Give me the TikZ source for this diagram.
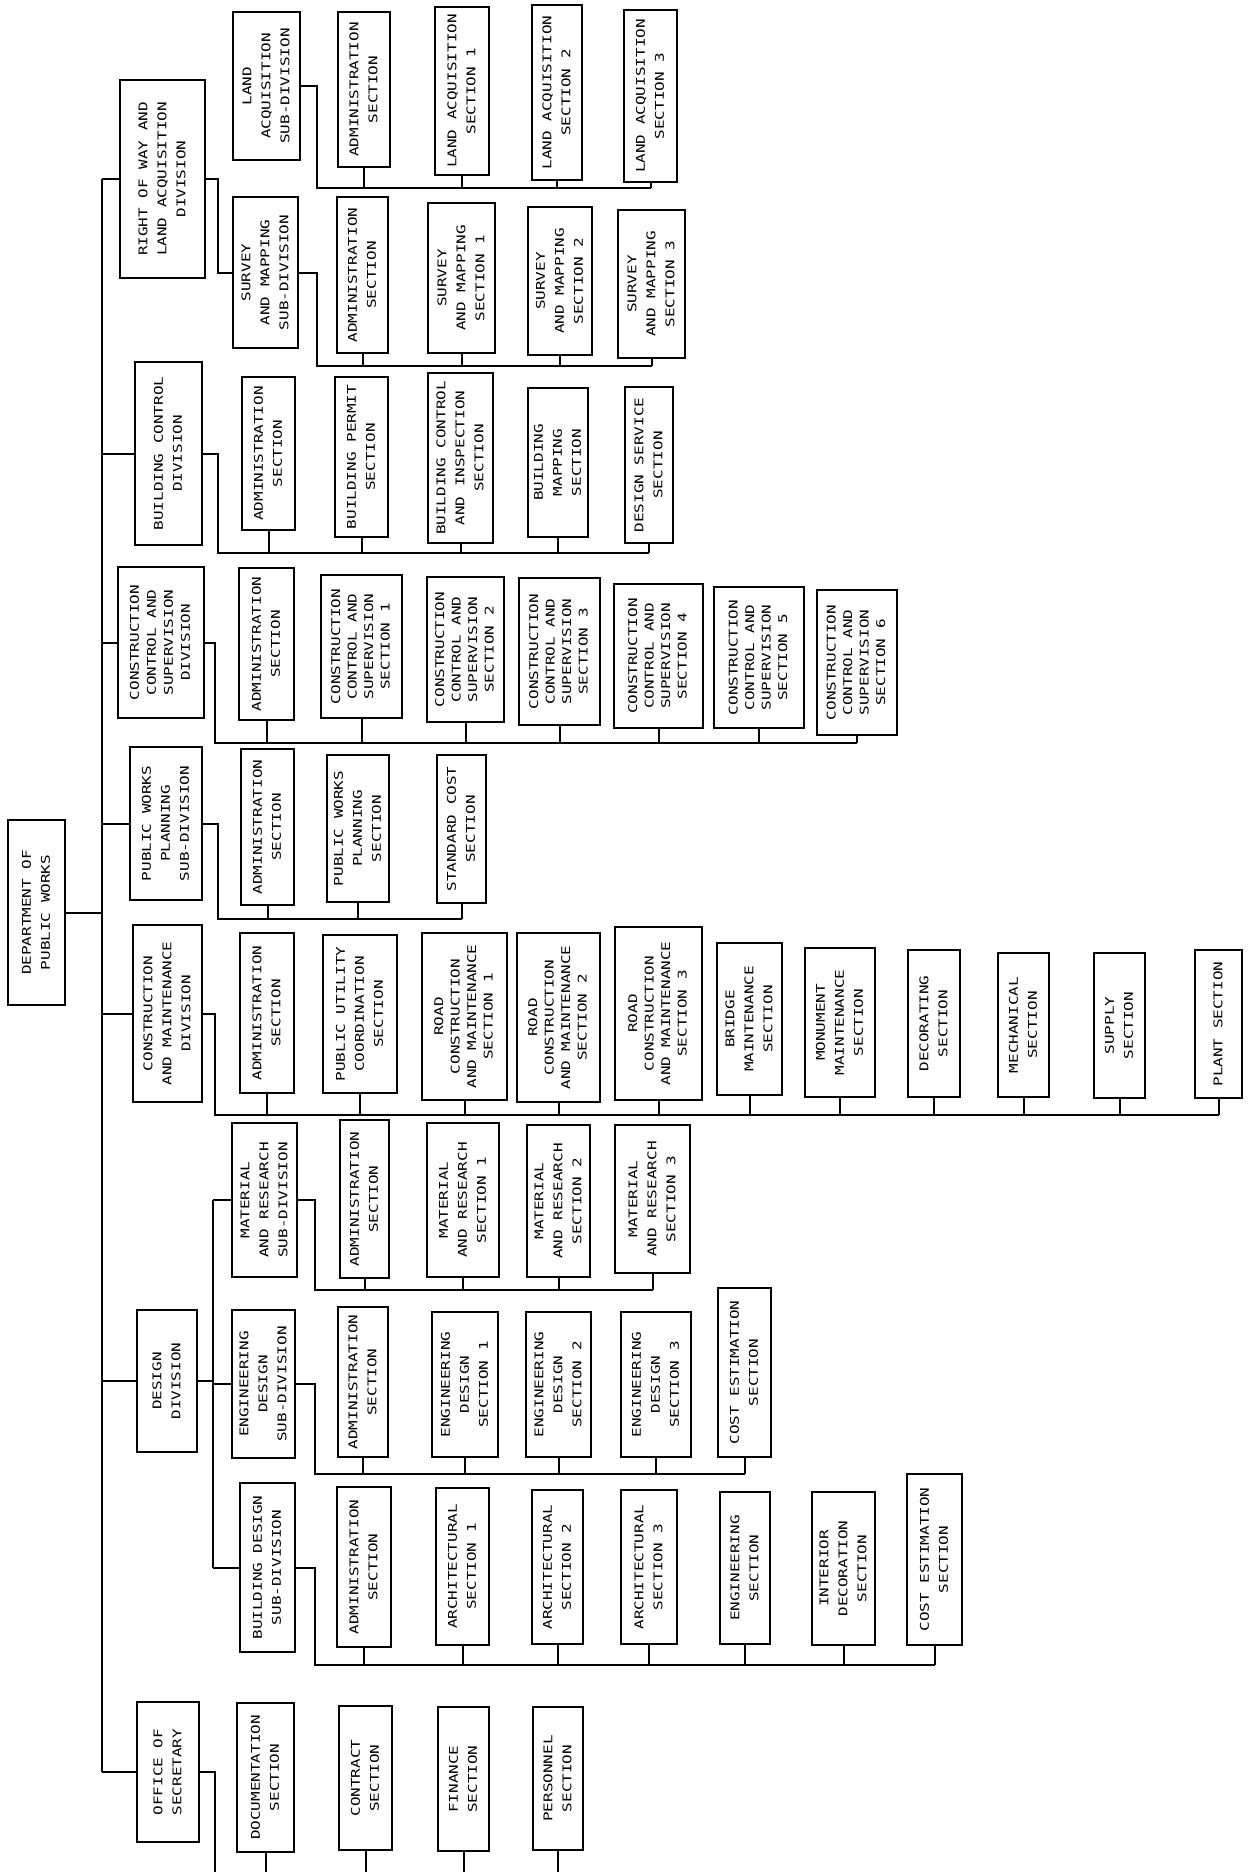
\documentclass[tikz,border=0pt]{standalone}
\usepackage{fontspec}
\setmonofont{DejaVu Sans Mono}
\usepackage{graphicx}
\newcommand{\rt}[2]{\rotatebox{90}{\scalebox{1.33}[1]{\fontsize{12}{#1}\selectfont\begin{tabular}{@{}c@{}}#2\end{tabular}}}}
\newcommand{\bx}[7][19]{\node[bx, minimum width={(#5-#3)*1pt}, minimum height={(#6-#4)*1pt}] (#2) at ({(#3+#5)/2},{(#4+#6)/2}) {\rt{#1}{#7}};}
\begin{document}
\begin{tikzpicture}[x=1pt,y=-1pt,
  bx/.style={draw, line width=2pt, inner sep=0pt, font=\ttfamily, fill=white},
  ln/.style={line width=2pt}]
\fill[white] (0,0) rectangle (1249,1872);
\useasboundingbox (0,0) rectangle (1249,1872);

% root
\bx{root}{8}{820}{65}{1005}{DEPARTMENT OF\\PUBLIC WORKS}

% divisions
\bx{row}{120}{80}{205}{278}{RIGHT OF WAY AND\\LAND ACQUISITION\\DIVISION}
\bx{bcd}{135}{362}{202}{545}{BUILDING CONTROL\\DIVISION}
\bx[17]{ccd}{118}{567}{204}{718}{CONSTRUCTION\\CONTROL AND\\SUPERVISION\\DIVISION}
\bx{pwp}{130}{747}{202}{900}{PUBLIC WORKS\\PLANNING\\SUB-DIVISION}
\bx{cmdiv}{133}{925}{202}{1102}{CONSTRUCTION\\AND MAINTENANCE\\DIVISION}
\bx{dsd}{137}{1310}{197}{1452}{DESIGN\\DIVISION}
\bx{ofs}{137}{1702}{199}{1842}{OFFICE OF\\SECRETARY}

% sub-divisions
\bx{las}{233}{12}{300}{160}{LAND\\ACQUISITION\\SUB-DIVISION}
\bx{sms}{233}{197}{298}{348}{SURVEY\\AND MAPPING\\SUB-DIVISION}
\bx{mrs}{232}{1123}{297}{1277}{MATERIAL\\AND RESEARCH\\SUB-DIVISION}
\bx{eds}{232}{1310}{295}{1458}{ENGINEERING\\DESIGN\\SUB-DIVISION}
\bx{bds}{240}{1483}{295}{1652}{BUILDING DESIGN\\SUB-DIVISION}

% land acquisition sections
\bx{laa}{338}{12}{390}{167}{ADMINISTRATION\\SECTION}
\bx{la1}{435}{7}{489}{175}{LAND ACQUISITION\\SECTION 1}
\bx{la2}{532}{5}{582}{180}{LAND ACQUISITION\\SECTION 2}
\bx{la3}{624}{10}{677}{182}{LAND ACQUISITION\\SECTION 3}

% survey and mapping sections
\bx{sma}{337}{197}{388}{353}{ADMINISTRATION\\SECTION}
\bx{sm1}{428}{203}{495}{353}{SURVEY\\AND MAPPING\\SECTION 1}
\bx{sm2}{528}{207}{592}{355}{SURVEY\\AND MAPPING\\SECTION 2}
\bx{sm3}{618}{210}{685}{358}{SURVEY\\AND MAPPING\\SECTION 3}

% building control sections
\bx{bca}{242}{377}{295}{530}{ADMINISTRATION\\SECTION}
\bx{bcp}{335}{377}{388}{537}{BUILDING PERMIT\\SECTION}
\bx{bci}{428}{373}{493}{543}{BUILDING CONTROL\\AND INSPECTION\\SECTION}
\bx{bcm}{528}{388}{588}{537}{BUILDING\\MAPPING\\SECTION}
\bx{bcs}{625}{387}{673}{543}{DESIGN SERVICE\\SECTION}

% construction control and supervision sections
\bx{cca}{239}{568}{294}{720}{ADMINISTRATION\\SECTION}
\bx[16.5]{cc1}{321}{575}{402}{718}{CONSTRUCTION\\CONTROL AND\\SUPERVISION\\SECTION 1}
\bx[16.5]{cc2}{427}{577}{504}{722}{CONSTRUCTION\\CONTROL AND\\SUPERVISION\\SECTION 2}
\bx[16.5]{cc3}{519}{578}{600}{725}{CONSTRUCTION\\CONTROL AND\\SUPERVISION\\SECTION 3}
\bx[16.5]{cc4}{614}{584}{703}{728}{CONSTRUCTION\\CONTROL AND\\SUPERVISION\\SECTION 4}
\bx[16.5]{cc5}{714}{587}{804}{728}{CONSTRUCTION\\CONTROL AND\\SUPERVISION\\SECTION 5}
\bx[16.5]{cc6}{817}{590}{897}{735}{CONSTRUCTION\\CONTROL AND\\SUPERVISION\\SECTION 6}

% public works planning sections
\bx{pwa}{241}{749}{294}{905}{ADMINISTRATION\\SECTION}
\bx{pwl}{327}{755}{389}{902}{PUBLIC WORKS\\PLANNING\\SECTION}
\bx{pwc}{437}{755}{486}{903}{STANDARD COST\\SECTION}

% construction and maintenance sections
\bx{cma}{240}{933}{294}{1093}{ADMINISTRATION\\SECTION}
\bx{cmu}{323}{935}{397}{1093}{PUBLIC UTILITY\\COORDINATION\\SECTION}
\bx[16.5]{cr1}{422}{933}{507}{1100}{ROAD\\CONSTRUCTION\\AND MAINTENANCE\\SECTION 1}
\bx[16.5]{cr2}{517}{933}{600}{1102}{ROAD\\CONSTRUCTION\\AND MAINTENANCE\\SECTION 2}
\bx[16.5]{cr3}{615}{927}{702}{1100}{ROAD\\CONSTRUCTION\\AND MAINTENANCE\\SECTION 3}
\bx{cmbr}{717}{943}{782}{1095}{BRIDGE\\MAINTENANCE\\SECTION}
\bx{cmm}{805}{948}{875}{1097}{MONUMENT\\MAINTENANCE\\SECTION}
\bx{cmdc}{908}{950}{960}{1097}{DECORATING\\SECTION}
\bx{cme}{998}{953}{1049}{1097}{MECHANICAL\\SECTION}
\bx{cms}{1094}{953}{1145}{1098}{SUPPLY\\SECTION}
\bx{cmp}{1195}{950}{1242}{1098}{PLANT SECTION}

% material and research sections
\bx{mra}{340}{1120}{389}{1278}{ADMINISTRATION\\SECTION}
\bx{mr1}{427}{1123}{499}{1277}{MATERIAL\\AND RESEARCH\\SECTION 1}
\bx{mr2}{527}{1125}{590}{1277}{MATERIAL\\AND RESEARCH\\SECTION 2}
\bx{mr3}{615}{1125}{690}{1273}{MATERIAL\\AND RESEARCH\\SECTION 3}

% engineering design sections
\bx{eda}{338}{1307}{388}{1457}{ADMINISTRATION\\SECTION}
\bx{ed1}{432}{1312}{498}{1457}{ENGINEERING\\DESIGN\\SECTION 1}
\bx{ed2}{526}{1312}{591}{1457}{ENGINEERING\\DESIGN\\SECTION 2}
\bx{ed3}{621}{1312}{691}{1457}{ENGINEERING\\DESIGN\\SECTION 3}
\bx{edc}{718}{1288}{771}{1457}{COST ESTIMATION\\SECTION}

% building design sections
\bx{bda}{337}{1487}{391}{1647}{ADMINISTRATION\\SECTION}
\bx{ba1}{436}{1488}{489}{1645}{ARCHITECTURAL\\SECTION 1}
\bx{ba2}{532}{1490}{583}{1644}{ARCHITECTURAL\\SECTION 2}
\bx{ba3}{621}{1490}{677}{1644}{ARCHITECTURAL\\SECTION 3}
\bx{bde}{720}{1492}{770}{1644}{ENGINEERING\\SECTION}
\bx{bdi}{812}{1492}{875}{1645}{INTERIOR\\DECORATION\\SECTION}
\bx{bdc}{907}{1474}{962}{1645}{COST ESTIMATION\\SECTION}

% office of secretary sections
\bx{osd}{237}{1703}{294}{1852}{DOCUMENTATION\\SECTION}
\bx{osc}{339}{1706}{392}{1850}{CONTRACT\\SECTION}
\bx{osf}{438}{1707}{489}{1851}{FINANCE\\SECTION}
\bx{osp}{533}{1707}{583}{1850}{PERSONNEL\\SECTION}

% ---------- connectors ----------
\coordinate (tx) at (102,0);
\draw[ln] (row.west -| tx) -- (ofs.west -| tx);
\foreach \d in {row,bcd,ccd,pwp,cmdiv,dsd,ofs} \draw[ln] (\d.west) -- (\d.west -| tx);
\draw[ln] (root.east) -- (root.east -| tx);

% right of way division
\coordinate (rv) at (218,0);
\draw[ln] (row.east) -| (sms.west -| rv) -- (sms.west);

% land acquisition
\coordinate (lab) at (317,188);
\draw[ln] (las.east) -| (lab) -- (la3.south |- lab);
\foreach \n in {laa,la1,la2,la3} \draw[ln] (\n.south) -- (\n.south |- lab);

% survey and mapping
\coordinate (smb) at (317,366);
\draw[ln] (sms.east) -| (smb) -- (sm3.south |- smb);
\foreach \n in {sma,sm1,sm2,sm3} \draw[ln] (\n.south) -- (\n.south |- smb);

% building control
\coordinate (bcb) at (218,553);
\draw[ln] (bcd.east) -| (bcb) -- (bcs.south |- bcb);
\foreach \n in {bca,bcp,bci,bcm,bcs} \draw[ln] (\n.south) -- (\n.south |- bcb);

% construction control and supervision
\coordinate (ccb) at (215,743);
\draw[ln] (ccd.east) -| (ccb) -- (cc6.south |- ccb);
\foreach \n in {cca,cc1,cc2,cc3,cc4,cc5,cc6} \draw[ln] (\n.south) -- (\n.south |- ccb);

% public works planning
\coordinate (pwb) at (218,919);
\draw[ln] (pwp.east) -| (pwb) -- (pwc.south |- pwb);
\foreach \n in {pwa,pwl,pwc} \draw[ln] (\n.south) -- (\n.south |- pwb);

% construction and maintenance
\coordinate (cmb) at (215,1115);
\draw[ln] (cmdiv.east) -| (cmb) -- (cmp.south |- cmb);
\foreach \n in {cma,cmu,cr1,cr2,cr3,cmbr,cmm,cmdc,cme,cms,cmp} \draw[ln] (\n.south) -- (\n.south |- cmb);

% design division
\coordinate (dv) at (213,0);
\draw[ln] (dsd.east) -- (dsd.east -| dv);
\draw[ln] (mrs.west -| dv) -- (bds.west -| dv);
\foreach \n in {mrs,eds,bds} \draw[ln] (\n.west -| dv) -- (\n.west);

% material and research
\coordinate (mrb) at (315,1290);
\draw[ln] (mrs.east) -| (mrb) -- (mr3.south |- mrb);
\foreach \n in {mra,mr1,mr2,mr3} \draw[ln] (\n.south) -- (\n.south |- mrb);

% engineering design
\coordinate (edb) at (315,1474);
\draw[ln] (eds.east) -| (edb) -- (edc.south |- edb);
\foreach \n in {eda,ed1,ed2,ed3,edc} \draw[ln] (\n.south) -- (\n.south |- edb);

% building design
\coordinate (bdb) at (315,1665);
\draw[ln] (bds.east) -| (bdb) -- (bdc.south |- bdb);
\foreach \n in {bda,ba1,ba2,ba3,bde,bdi,bdc} \draw[ln] (\n.south) -- (\n.south |- bdb);

% office of secretary (bus runs off the page)
\coordinate (osb) at (215,1872);
\draw[ln] (ofs.east) -| (osb);
\foreach \n in {osd,osc,osf,osp} \draw[ln] (\n.south) -- (\n.south |- osb);
\end{tikzpicture}
\end{document}
